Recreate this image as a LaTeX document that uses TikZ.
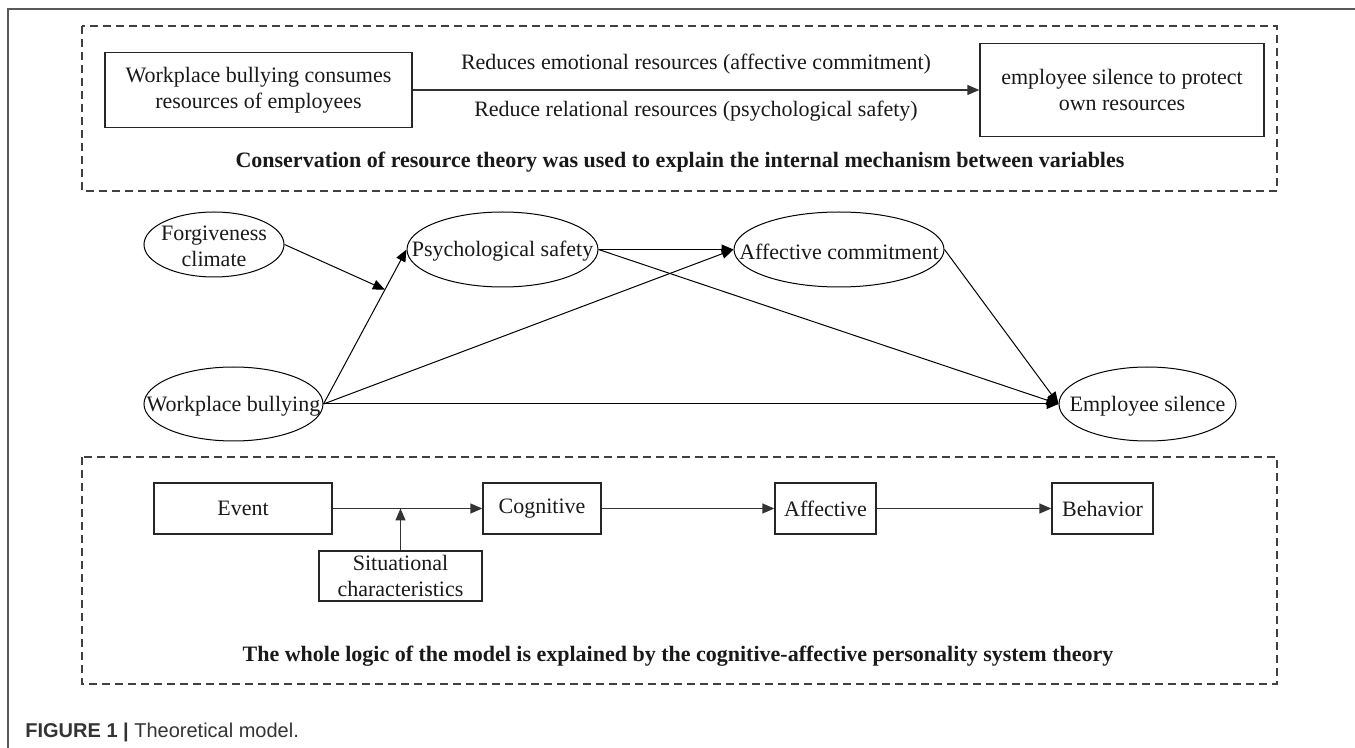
\documentclass[tikz,border=0pt]{standalone}
\usepackage{fontspec}
\setmainfont{Liberation Serif}
\newfontfamily\capfont{Liberation Sans}
\usetikzlibrary{shapes.geometric,arrows.meta}

\begin{document}
\begin{tikzpicture}[x=0.5pt,y=-0.5pt,font=\fontsize{11}{13}\selectfont,text=black!90]
        \tikzstyle{box}=[draw=black!85,line width=0.7pt,inner sep=1pt,align=center]
        \tikzstyle{oval}=[draw,ellipse,line width=0.5pt,inner sep=0pt]
        \tikzstyle{arr}=[-{Triangle[length=6pt,width=5pt]},line width=0.5pt]
        \tikzstyle{flow}=[arr,draw=black!80,line width=0.7pt]
        \tikzstyle{zone}=[draw=black!75,dash pattern=on 4pt off 2.5pt,line width=0.6pt]
        \tikzstyle{theory}=[anchor=base,font=\fontsize{11}{13}\selectfont\bfseries]
        \useasboundingbox (0,0) rectangle (1355,748);
        \draw[black!65,line width=0.8pt] (1355,9) -- (8,9) -- (8,748);

        % conservation of resources
        \draw[zone] (82,26) rectangle (1277,191);
        \node[box,minimum width=153.5pt,minimum height=37.5pt] (wbc) at (258.5,90) {Workplace bullying consumes\\resources of employees};
        \node[box,minimum width=142pt,minimum height=46.5pt] (esp) at (1122,90) {employee silence to protect\\own resources};
        \draw[flow] (wbc) -- node[above=4pt] (emo) {Reduces emotional resources (affective commitment)}
                node[below=2pt] (rel) {Reduce relational resources (psychological safety)} (esp);
        \node[theory] (cor) at (680,168) {Conservation of resource theory was used to explain the internal mechanism between variables};

        % research model
        \node[oval,minimum width=70pt,minimum height=32.5pt,label={[align=center,yshift=-1pt]center:Forgiveness\\climate}] (forg) at (214,244.5) {};
        \node[oval,minimum width=95.5pt,minimum height=37.5pt,label={[yshift=-1pt]center:Psychological safety}] (psych) at (502.5,249.5) {};
        \node[oval,minimum width=105pt,minimum height=37.5pt,label={[yshift=-1pt]center:Affective commitment}] (affc) at (839,249.5) {};
        \node[oval,minimum width=89.5pt,minimum height=37pt,label={[yshift=-1pt]center:Workplace bullying}] (bully) at (233.5,404) {};
        \node[oval,minimum width=88.5pt,minimum height=37pt,label={[yshift=-1pt]center:Employee silence}] (sil) at (1147.5,404) {};
        \draw[arr] (bully.east) -- coordinate[pos=0.74] (mod) (psych.west);
        \draw[arr] (forg.east) -- (mod);
        \draw[arr] (bully.east) -- (affc.west);
        \draw[arr] (bully.east) -- (sil.west);
        \draw[arr] (psych.east) -- (affc.west);
        \draw[arr] (psych.east) -- (sil.west);
        \draw[arr] (affc.east) -- (sil.west);

        % cognitive-affective personality system
        \draw[zone] (82,457) rectangle (1277,684);
        \node[box,minimum width=89pt,minimum height=25.5pt] (event) at (243,508.5) {Event};
        \node[box,minimum width=81.5pt,minimum height=25pt] (sit) at (400.5,576) {Situational\\characteristics};
        \node[box,minimum width=59pt,minimum height=25.5pt] (cog) at (542,508.5) {Cognitive};
        \node[box,minimum width=50.5pt,minimum height=25.5pt] (affb) at (825.5,508.5) {Affective};
        \node[box,minimum width=50.5pt,minimum height=25.5pt] (beh) at (1102.5,508.5) {Behavior};
        \coordinate (join) at (sit.north |- event.east);
        \draw[flow] (event) -- (cog);
        \draw[flow] (sit) -- (join);
        \draw[flow] (cog) -- (affb);
        \draw[flow] (affb) -- (beh);
        \node[theory] (caps) at (678,661) {The whole logic of the model is explained by the cognitive-affective personality system theory};

        \node[anchor=base west,inner sep=0pt,text=black!80,font=\capfont\fontsize{10}{12}\selectfont] (cap) at (25,737) {\textbf{FIGURE 1 |} Theoretical model.};
    \end{tikzpicture}
\end{document}
